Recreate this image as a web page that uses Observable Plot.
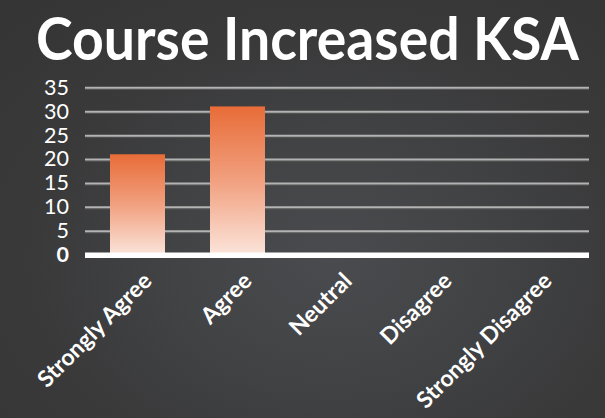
<!DOCTYPE html>
<html>
<head>
<meta charset="utf-8">
<script src="https://cdn.jsdelivr.net/npm/d3@7"></script>
<script src="https://cdn.jsdelivr.net/npm/@observablehq/plot@0.6"></script>
<style>
  html, body { margin: 0; padding: 0; }
  #wrap {
    position: relative; width: 605px; height: 418px; overflow: hidden;
    background: radial-gradient(ellipse 75% 80% at 55% 62%, #4a4b4e 0%, #424345 35%, #3a3a3b 65%, #353535 100%);
    font-family: Lato, "Open Sans", sans-serif;
  }
  #title {
    position: absolute; left: 0; top: 1px; width: 605px; height: 72px;
    color: #fff; font-weight: 700; font-size: 60px; line-height: 72px; white-space: nowrap;
  }
  #title span { position: absolute; left: 36px; top: 0; display: inline-block; transform-origin: 0 50%; }
  #chart { position: absolute; left: 0; top: 0; }
</style>
</head>
<body>
<div id="wrap">
  <div id="chart"></div>
  <div id="title"><span>Course Increased KSA</span></div>
</div>
<script>
const title = "Course Increased KSA";
const categories = ["Strongly Agree", "Agree", "Neutral", "Disagree", "Strongly Disagree"];
const counts = [21, 31, 0, 0, 0];
const yTicks = [0, 5, 10, 15, 20, 25, 30, 35];

const data = categories.map((c, i) => ({category: c, count: counts[i]}));

const defs = () => {
  const g = d3.create("svg:defs");
  const lg = g.append("linearGradient").attr("id", "barGrad")
    .attr("x1", 0).attr("y1", 0).attr("x2", 0).attr("y2", 1);
  lg.append("stop").attr("offset", "0%").attr("stop-color", "#e86c38");
  lg.append("stop").attr("offset", "50%").attr("stop-color", "#f1a07f");
  lg.append("stop").attr("offset", "100%").attr("stop-color", "#fbe4da");
  return g.node();
};

const plot = Plot.plot({
  width: 605,
  height: 418,
  marginTop: 87.3,
  marginBottom: 163.3,
  marginLeft: 87.5,
  marginRight: 17.5,
  style: {background: "transparent", fontFamily: "Lato, 'Open Sans', sans-serif", color: "#fff", overflow: "visible"},
  x: {domain: categories, paddingInner: 0.45, paddingOuter: 0.225, label: null},
  y: {domain: [0, 35], ticks: yTicks, label: null},
  marks: [
    defs,
    Plot.ruleY(yTicks.filter(d => d > 0), {stroke: "#5a5a5a", strokeWidth: 1, dy: 1.5, insetLeft: -2.5, insetRight: -1.5}),
    Plot.ruleY(yTicks.filter(d => d > 0), {stroke: "#b3b3b3", strokeWidth: 2, insetLeft: -2.5, insetRight: -1.5}),
    Plot.barY(data, {x: "category", y: "count", fill: "url(#barGrad)"}),
    Plot.ruleY([0], {stroke: "#ffffff", strokeWidth: 5.5, insetLeft: -2.5, insetRight: -1.5}),
    Plot.axisY({ticks: yTicks, tickSize: 0, tickPadding: 19, fontSize: 21.5, label: null, fill: "#fff"}),
    Plot.axisX({tickSize: 0, tickRotate: -45, fontSize: 23, fontWeight: "bold", label: null, fill: "#fff", tickPadding: 22, dx: 10})
  ]
});

d3.select(plot).selectAll("text").filter(function() { return this.textContent === "0"; })
  .attr("font-weight", "bold");

document.getElementById("chart").appendChild(plot);

const span = document.querySelector("#title span");
span.textContent = title;
const w = span.getBoundingClientRect().width;
span.style.transform = `scaleX(${543 / w})`;
</script>
</body>
</html>
